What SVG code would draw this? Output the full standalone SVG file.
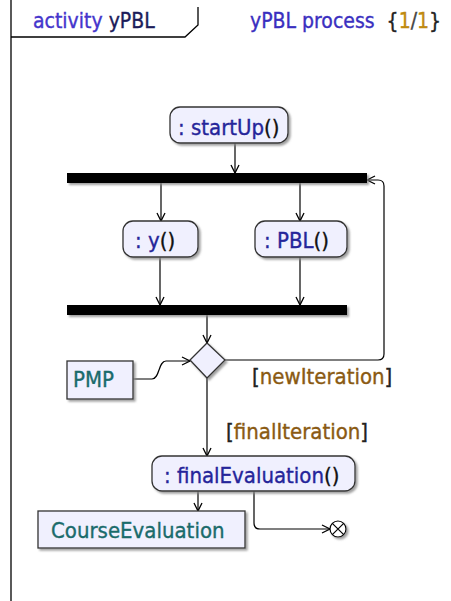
<svg xmlns="http://www.w3.org/2000/svg" width="451" height="601" viewBox="0 0 451 601">
  <style>
    text { font-family: "DejaVu Sans Condensed", "DejaVu Sans", Verdana, sans-serif; font-size: 22px; stroke-width: 0.35; }
    .title { font-size: 21px; }
    .frame { fill: none; stroke: #000; stroke-width: 1.3; }
    .action { fill: #f0f0fe; stroke: #333; stroke-width: 1.3; }
    .object { fill: #f0f0fe; stroke: #333; stroke-width: 1.3; }
    .bar { fill: #000; }
    .flow { fill: none; stroke: #000; stroke-width: 1.2; }
    .op { fill: #25259a; stroke: #25259a; }
    .paren { fill: #111; stroke: #111; }
    .obj { fill: #1a6b6b; stroke: #1a6b6b; }
    .guard { fill: #8a5a12; stroke: #8a5a12; }
    .bracket { fill: #222; stroke: #222; }
  </style>
  <defs>
    <filter id="shadow" x="-10%" y="-10%" width="130%" height="150%">
      <feDropShadow dx="2" dy="2" stdDeviation="0.8" flood-color="#888" flood-opacity="0.8"/>
    </filter>
    <marker id="open" markerWidth="12" markerHeight="12" refX="10" refY="6" orient="auto" markerUnits="userSpaceOnUse">
      <path d="M2,2 L10,6 L2,10" fill="none" stroke="#000" stroke-width="1.3"/>
    </marker>
  </defs>

  <!-- activity frame -->
  <g id="frame">
    <path class="frame" d="M11,0 V601"/>
    <path class="frame" d="M11,37 H185 L198,25 V7"/>
    <text class="title" x="33" y="28"><tspan fill="#4535cc" stroke="#4535cc">activity </tspan><tspan fill="#1c1c5a" stroke="#1c1c5a">yPBL</tspan></text>
    <text class="title" x="250" y="28"><tspan fill="#3a2fc0" stroke="#3a2fc0">yPBL process&#160;</tspan><tspan fill="#222" stroke="#222">&#160;{</tspan><tspan fill="#c08a10" stroke="#c08a10">1</tspan><tspan fill="#444" stroke="#444">/</tspan><tspan fill="#c08a10" stroke="#c08a10">1</tspan><tspan fill="#222" stroke="#222">}</tspan></text>
  </g>

  <!-- connectors -->
  <g id="connectors">
    <path class="flow" d="M235,143 V173" marker-end="url(#open)"/>
    <path class="flow" d="M161,183 V221" marker-end="url(#open)"/>
    <path class="flow" d="M300,183 V221" marker-end="url(#open)"/>
    <path class="flow" d="M160,257 V305" marker-end="url(#open)"/>
    <path class="flow" d="M300,257 V305" marker-end="url(#open)"/>
    <path class="flow" d="M207,315 V343" marker-end="url(#open)"/>
    <path class="flow" d="M133,379 H152 C160,379 158,361 166,361 H190" marker-end="url(#open)"/>
    <path class="flow" d="M225,360 H378 Q384,360 384,354 V186 Q384,180 378,180 H367" marker-end="url(#open)"/>
    <path class="flow" d="M207,378 V456" marker-end="url(#open)"/>
    <path class="flow" d="M198,491 V511" marker-end="url(#open)"/>
    <path class="flow" d="M254,491 V523 Q254,529 260,529 H330" marker-end="url(#open)"/>
    <text x="252" y="384"><tspan class="bracket">[</tspan><tspan class="guard">newIteration</tspan><tspan class="bracket">]</tspan></text>
    <text x="226" y="439"><tspan class="bracket">[</tspan><tspan class="guard">finalIteration</tspan><tspan class="bracket">]</tspan></text>
  </g>

  <g id="startUp">
    <rect class="action" x="170" y="107" width="118" height="36" rx="10" filter="url(#shadow)"/>
    <text x="178" y="135"><tspan class="op">: startUp</tspan><tspan class="paren">()</tspan></text>
  </g>

  <g id="fork">
    <rect class="bar" x="67" y="173" width="300" height="10" filter="url(#shadow)"/>
  </g>

  <g id="y">
    <rect class="action" x="123" y="221" width="75" height="36" rx="10" filter="url(#shadow)"/>
    <text x="135" y="248"><tspan class="op">: y</tspan><tspan class="paren">()</tspan></text>
  </g>

  <g id="PBL">
    <rect class="action" x="255" y="221" width="92" height="36" rx="10" filter="url(#shadow)"/>
    <text x="264" y="248"><tspan class="op">: PBL</tspan><tspan class="paren">()</tspan></text>
  </g>

  <g id="join">
    <rect class="bar" x="67" y="305" width="280" height="10" filter="url(#shadow)"/>
  </g>

  <g id="decision">
    <path class="action" d="M207,343 L225,360 L207,378 L190,360 Z" filter="url(#shadow)"/>
  </g>

  <g id="PMP">
    <rect class="object" x="67" y="361" width="66" height="38" filter="url(#shadow)"/>
    <text class="obj" x="73" y="387">PMP</text>
  </g>

  <g id="finalEvaluation">
    <rect class="action" x="152" y="456" width="203" height="35" rx="10" filter="url(#shadow)"/>
    <text x="164" y="483"><tspan class="op">: finalEvaluation</tspan><tspan class="paren">()</tspan></text>
  </g>

  <g id="CourseEvaluation">
    <rect class="object" x="38" y="511" width="207" height="37" filter="url(#shadow)"/>
    <text class="obj" x="51" y="538">CourseEvaluation</text>
  </g>

  <g id="flowFinal">
    <circle cx="338" cy="529" r="8" fill="#fff" stroke="#000" stroke-width="1.2" filter="url(#shadow)"/>
    <path d="M332.3,523.3 L343.7,534.7 M343.7,523.3 L332.3,534.7" stroke="#000" stroke-width="1.2"/>
  </g>
</svg>
